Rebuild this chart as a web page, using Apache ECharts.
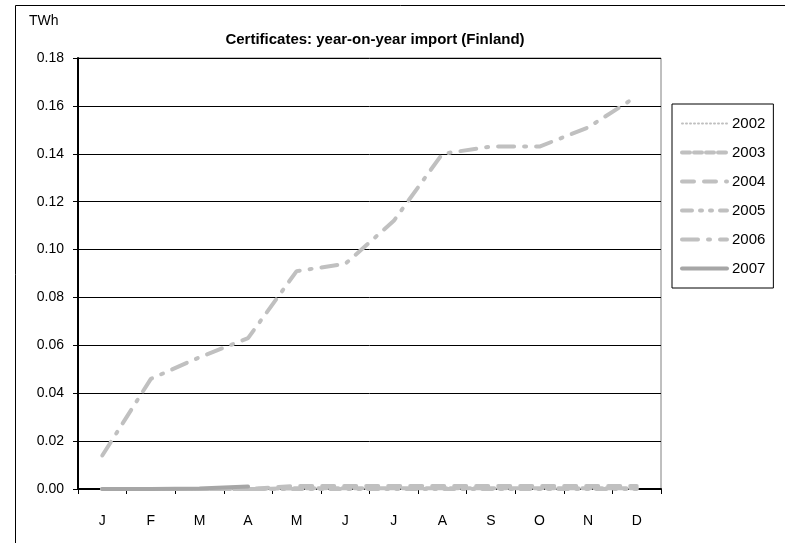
<!DOCTYPE html>
<html>
<head>
<meta charset="utf-8">
<script src="https://cdn.jsdelivr.net/npm/echarts@6/dist/echarts.min.js"></script>
<style>html,body{margin:0;padding:0;background:#fff}#c{width:785px;height:543px}</style>
</head>
<body>
<div id="c"></div>
<script>
var months = ['J','F','M','A','M','J','J','A','S','O','N','D'];
var s2002 = [0,0,0,0,0,0,0,0,0,0,0,0];
var s2003 = [0,0,0,0,0.0003,0.0003,0.0003,0.0003,0.0003,0.0003,0.0003,0.0003];
var s2004 = [0,0,0,0,0.0013,0.0013,0.0013,0.0013,0.0013,0.0013,0.0013,0.0013];
var s2005 = [0,0,0,0,0,0,0,0,0,0,0,0];
var s2006 = [0.014,0.046,0.055,0.063,0.091,0.094,0.112,0.140,0.143,0.143,0.151,0.164];
var s2007 = [0,0,0.0002,0.001,null,null,null,null,null,null,null,null];
var yTicks = [0,0.02,0.04,0.06,0.08,0.10,0.12,0.14,0.16,0.18];

var font = 'Liberation Sans, Arial, sans-serif';
function mk(name, data, color, width, dash){
  return {name:name, type:'line', data:data, showSymbol:false, symbol:'none',
    lineStyle:{color:color, width:width, type:dash, cap:'round'}, itemStyle:{color:color},
    connectNulls:false, animation:false, z: 2};
}
var chart = echarts.init(document.getElementById('c'));
chart.setOption({
  animation:false,
  backgroundColor:'#fff',
  graphic:[{type:'rect', shape:{x:15.5,y:5.5,width:800,height:600}, style:{fill:'none',stroke:'#000',lineWidth:1}, silent:true},
           {type:'text', left:29, top:14, style:{text:'TWh', font:'14px '+font, fill:'#000'}}],
  title:{text:'Certificates: year-on-year import (Finland)', left:370, top:27, textAlign:'center',
    textStyle:{fontFamily:font, fontSize:15, fontWeight:'bold', color:'#000'}},
  grid:{left:78, right:124, top:58, bottom:54, show:true, borderColor:'#808080', borderWidth:1},
  legend:{orient:'vertical', left:672, top:104, width:105, itemWidth:45, itemHeight:10, itemGap:14,
    padding:[12,8,12,8], borderColor:'#000', borderWidth:1,
    itemStyle:{opacity:0}, lineStyle:{width:4},
    textStyle:{fontFamily:font, fontSize:15, color:'#000'},
    data:[{name:'2002', lineStyle:{width:2}},'2003','2004','2005','2006','2007']},
  xAxis:{type:'category', data:months, boundaryGap:true,
    axisLine:{lineStyle:{color:'#000', width:2}},
    axisTick:{show:true, length:5, lineStyle:{color:'#000'}},
    axisLabel:{color:'#000', fontFamily:font, fontSize:14, margin:25}},
  yAxis:{type:'value', min:0, max:0.18, interval:0.02,
    axisLine:{show:true, lineStyle:{color:'#000', width:2}},
    axisTick:{show:true, length:5, lineStyle:{color:'#000'}},
    splitLine:{lineStyle:{color:'#000', width:1}},
    axisLabel:{color:'#000', fontFamily:font, fontSize:14, margin:14,
      formatter:function(v){return v.toFixed(2);}}},
  series:[
    mk('2002', s2002, '#c0c0c0', 2, [1,3]),
    mk('2003', s2003, '#c0c0c0', 4, [8,4]),
    mk('2004', s2004, '#c0c0c0', 4, [12,10]),
    mk('2005', s2005, '#c0c0c0', 4, [10,8,2,8,2,8]),
    mk('2006', s2006, '#c0c0c0', 4, [16,10,2,10]),
    mk('2007', s2007, '#a6a6a6', 4, 'solid')
  ]
});
</script>
</body>
</html>
